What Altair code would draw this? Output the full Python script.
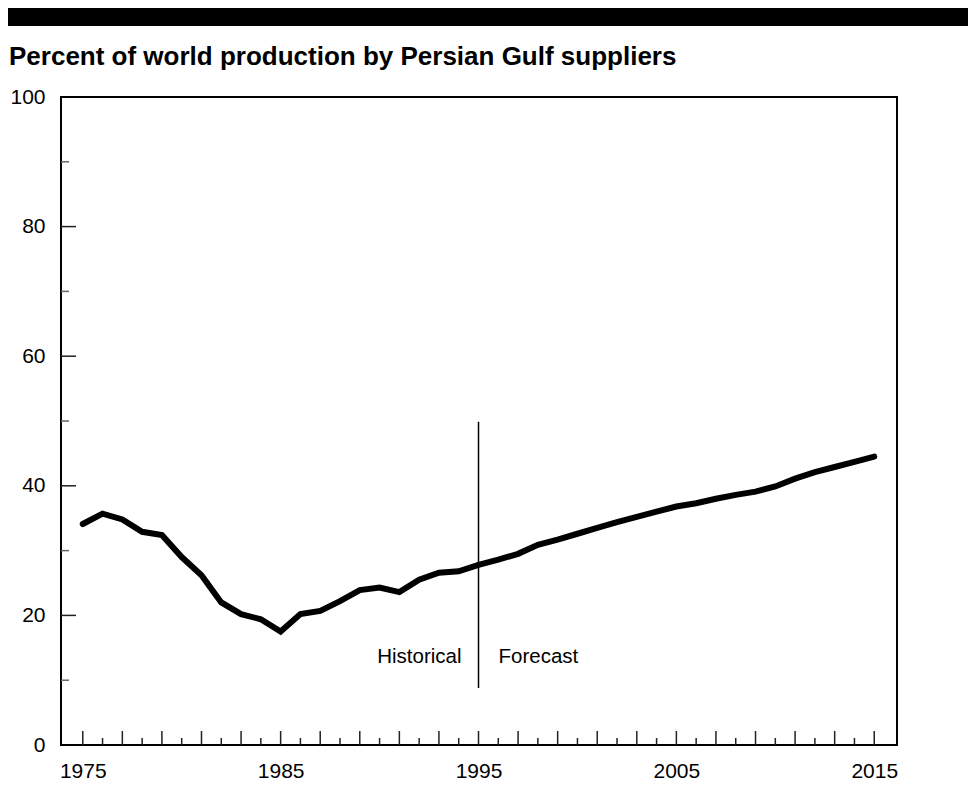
import altair as alt
import pandas as pd

# ---- data ----
years = list(range(1975, 2016))
share = [34.1, 35.7, 34.8, 32.9, 32.4, 29.0, 26.2, 22.0, 20.2, 19.4, 17.5,
         20.2, 20.7, 22.2, 23.9, 24.3, 23.6, 25.5, 26.6, 26.8, 27.8,
         28.6, 29.5, 30.9, 31.7, 32.6, 33.5, 34.4, 35.2, 36.0, 36.8,
         37.3, 38.0, 38.6, 39.1, 39.9, 41.1, 42.1, 42.9, 43.7, 44.5]
x_labels = [1975, 1985, 1995, 2005, 2015]
y_labels = [0, 20, 40, 60, 80, 100]
y_major_ticks = [20, 40, 60, 80]
y_minor_ticks = [10, 30, 50, 70, 90]
x_long_ticks = [y for y in years if y % 2 == 1]
x_short_ticks = [y for y in years if y % 2 == 0]
divider_year = 1995
divider_range = [8.8, 49.9]
note_level = 12.6
title_text = "Percent of world production by Persian Gulf suppliers"

FONT = "Liberation Sans"
W, H = 836, 648

xscale = alt.Scale(domain=[1973.9, 2016.15], nice=False, zero=False)
yscale = alt.Scale(domain=[0, 100], nice=False, zero=False)
xaxis = alt.Axis(values=x_labels, format="d", title=None, ticks=False, tickSize=0,
                 domain=False, grid=False, labelFontSize=21, labelPadding=15,
                 labelColor="black", labelFont=FONT)
yaxis = alt.Axis(values=y_labels, format="d", title=None, ticks=False, tickSize=0,
                 domain=False, grid=False, labelFontSize=21, labelPadding=16,
                 labelColor="black", labelFont=FONT)


def X(field):
    return alt.X(f"{field}:Q", scale=xscale, axis=xaxis)


def Y(field):
    return alt.Y(f"{field}:Q", scale=yscale, axis=yaxis)


line_df = pd.DataFrame({"year": years, "share": share})
line = alt.Chart(line_df).mark_line(
    color="black", strokeWidth=6, strokeJoin="miter", strokeCap="round"
).encode(x=X("year"), y=Y("share"))

# axis ticks (drawn inside the frame)
xlong = alt.Chart(pd.DataFrame({"year": x_long_ticks})).mark_rule(
    color="#222", strokeWidth=1.5
).encode(x=X("year"), y=alt.value(H), y2=alt.value(H - 14))
xshort = alt.Chart(pd.DataFrame({"year": x_short_ticks})).mark_rule(
    color="#222", strokeWidth=1.5
).encode(x=X("year"), y=alt.value(H), y2=alt.value(H - 7))
ymajor = alt.Chart(pd.DataFrame({"share": y_major_ticks})).mark_rule(
    color="#222", strokeWidth=1.5
).encode(y=Y("share"), x=alt.value(0), x2=alt.value(15))
yminor = alt.Chart(pd.DataFrame({"share": y_minor_ticks})).mark_rule(
    color="#666", strokeWidth=1.5
).encode(y=Y("share"), x=alt.value(0), x2=alt.value(8))

# historical / forecast divider
div_df = pd.DataFrame({"year": [divider_year], "lo": [divider_range[0]], "hi": [divider_range[1]]})
divider = alt.Chart(div_df).mark_rule(color="black", strokeWidth=1.5).encode(
    x=X("year"), y=Y("lo"), y2="hi:Q"
)
notes_df = pd.DataFrame({"year": [divider_year], "share": [note_level]})
hist = alt.Chart(notes_df).mark_text(
    text="Historical", align="right", baseline="alphabetic", dx=-17,
    fontSize=20.5, font=FONT, color="black"
).encode(x=X("year"), y=Y("share"))
fore = alt.Chart(notes_df).mark_text(
    text="Forecast", align="left", baseline="alphabetic", dx=20,
    fontSize=20.5, font=FONT, color="black"
).encode(x=X("year"), y=Y("share"))

# black band across the top and the chart title
band = alt.Chart(pd.DataFrame({"k": [0]})).mark_rect(color="black").encode(
    x=alt.value(-53), x2=alt.value(907), y=alt.value(-90), y2=alt.value(-71)
)
title = alt.Chart(pd.DataFrame({"t": [title_text]})).mark_text(
    align="left", baseline="alphabetic", fontSize=26, fontWeight="bold",
    font=FONT, color="black"
).encode(text="t:N", x=alt.value(-52), y=alt.value(-32))

chart = alt.layer(
    band, title, xlong, xshort, ymajor, yminor, divider, line, hist, fore
).properties(
    width=W, height=H,
    autosize=alt.AutoSizeParams(type="none"),
    padding={"left": 53, "top": 89, "right": 75, "bottom": 40},
).configure(
    background="white", font=FONT,
    view=alt.ViewConfig(stroke="black", strokeWidth=2),
)

chart.save("out.html", embed_options={"renderer": "svg", "actions": False})
